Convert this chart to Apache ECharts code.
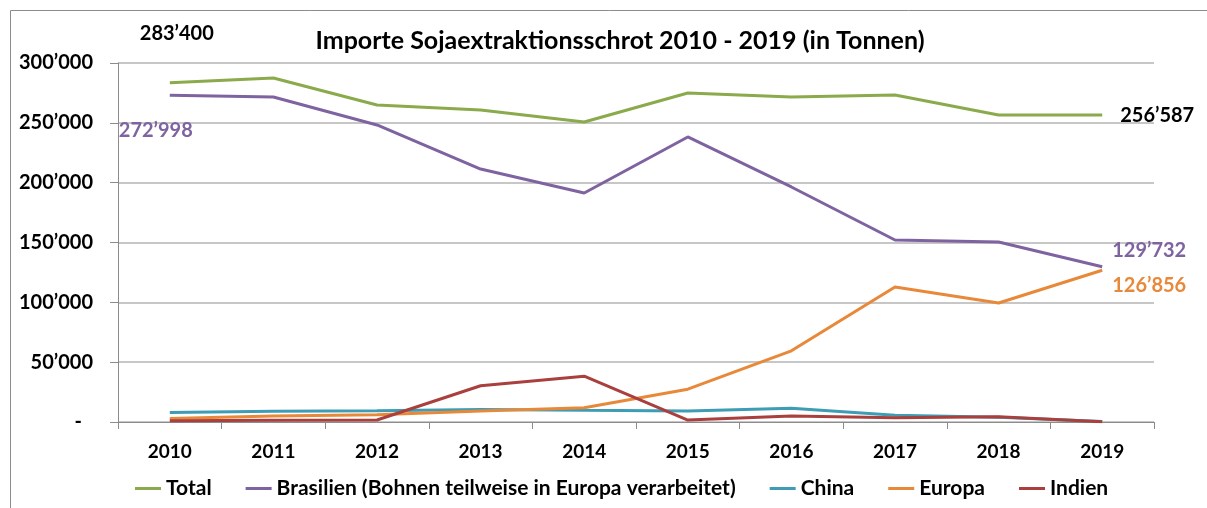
<!DOCTYPE html>
<html>
<head>
<meta charset="utf-8">
<script src="https://cdn.jsdelivr.net/npm/echarts@6/dist/echarts.min.js"></script>
<style>
html,body{margin:0;padding:0;background:#fff;}
#chart{width:1207px;height:508px;}
</style>
</head>
<body>
<div id="chart"></div>
<script>
const years = ['2010','2011','2012','2013','2014','2015','2016','2017','2018','2019'];
const totalValues = [283400, 287500, 264900, 260700, 250700, 274900, 271600, 273300, 256600, 256587];
const brasilienValues = [272998, 271600, 248200, 211400, 191400, 238200, 196400, 152100, 150400, 129732];
const chinaValues = [8000, 8900, 9400, 10500, 9800, 9200, 11400, 5600, 3900, 500];
const europaValues = [3000, 5000, 6100, 9200, 11900, 27400, 59500, 112800, 99400, 126856];
const indienValues = [1100, 1400, 1700, 30300, 38300, 1600, 5000, 3600, 4400, 300];
const seriesNames = ['Total', 'Brasilien (Bohnen teilweise in Europa verarbeitet)', 'China', 'Europa', 'Indien'];
const colors = ['#8AAA4B', '#7F63A0', '#3E9DB4', '#E8893A', '#A9403E'];

const FONT = 'Lato, "Open Sans", sans-serif';
function fmt(v) {
  return String(Math.round(v)).replace(/\B(?=(\d{3})+(?!\d))/g, '\u2019');
}
function markMulti(items) {
  return {
    symbol: 'circle', symbolSize: 0, silent: true,
    data: items.map(it => ({
      coord: [it.idx, it.values[it.idx]], value: it.values[it.idx],
      label: {show: true, position: 'inside', offset: it.offset, color: it.color,
              formatter: p => fmt(p.value), fontFamily: FONT, fontWeight: 'bold', fontSize: 20}
    }))
  };
}
const allValues = [totalValues, brasilienValues, chinaValues, europaValues, indienValues];
const marks = [
  markMulti([{idx:0, values: totalValues, color:'#000', offset:[7,-49]}, {idx:9, values: totalValues, color:'#000', offset:[55,1]}]),
  markMulti([{idx:0, values: brasilienValues, color:'#7F63A0', offset:[-14,35]}, {idx:9, values: brasilienValues, color:'#7F63A0', offset:[47,-16]}]),
  null,
  markMulti([{idx:9, values: europaValues, color:'#E8893A', offset:[47,15]}]),
  null
];

const chart = echarts.init(document.getElementById('chart'), null, {renderer: 'canvas'});
chart.setOption({
  animation: false,
  backgroundColor: '#fff',
  graphic: [{
    type: 'rect', shape: {x: 10.5, y: 10.5, width: 1300, height: 700},
    style: {fill: 'none', stroke: '#8c8c8c', lineWidth: 1}, silent: true, z: -10
  }],
  title: {
    text: 'Importe Sojaextraktionsschrot 2010 - 2019 (in Tonnen)',
    left: 615, textAlign: 'center', top: 23,
    textStyle: {fontFamily: FONT, fontWeight: 'bold', fontSize: 25, color: '#000'}
  },
  legend: {
    bottom: 4, left: 130,
    itemWidth: 26, itemHeight: 3, itemGap: 34, icon: 'rect',
    textStyle: {fontFamily: FONT, fontWeight: 'bold', fontSize: 21, color: '#000', padding: [0,0,0,0]},
    data: seriesNames
  },
  grid: {left: 118, right: 53, top: 63, bottom: 86, containLabel: false},
  xAxis: {
    type: 'category', data: years, boundaryGap: true,
    axisLine: {lineStyle: {color: '#8c8c8c', width: 1}},
    axisTick: {show: true, length: 7, lineStyle: {color: '#8c8c8c'}},
    axisLabel: {margin: 20, fontFamily: FONT, fontWeight: 'bold', fontSize: 19, color: '#000'}
  },
  yAxis: {
    type: 'value', min: 0, max: 300000, interval: 50000,
    axisLine: {show: true, lineStyle: {color: '#8c8c8c', width: 1}},
    axisTick: {show: true, length: 8, lineStyle: {color: '#8c8c8c'}},
    splitLine: {lineStyle: {color: '#b4b4b4', width: 1.5}},
    axisLabel: {
      margin: 25, fontFamily: FONT, fontWeight: 'bold', fontSize: 20, color: '#000',
      formatter: v => v === 0 ? '{d|-}' : fmt(v),
      rich: {d: {padding: [0, 11, 0, 0], fontFamily: FONT, fontWeight: 'bold', fontSize: 20, color: '#000'}}
    }
  },
  series: seriesNames.map((name, i) => {
    const s = {
      name: name, type: 'line', data: allValues[i],
      showSymbol: false, symbol: 'none',
      lineStyle: {width: 3, color: colors[i]},
      itemStyle: {color: colors[i]},
      emphasis: {disabled: true}
    };
    if (marks[i]) s.markPoint = marks[i];
    return s;
  })
});
</script>
</body>
</html>
